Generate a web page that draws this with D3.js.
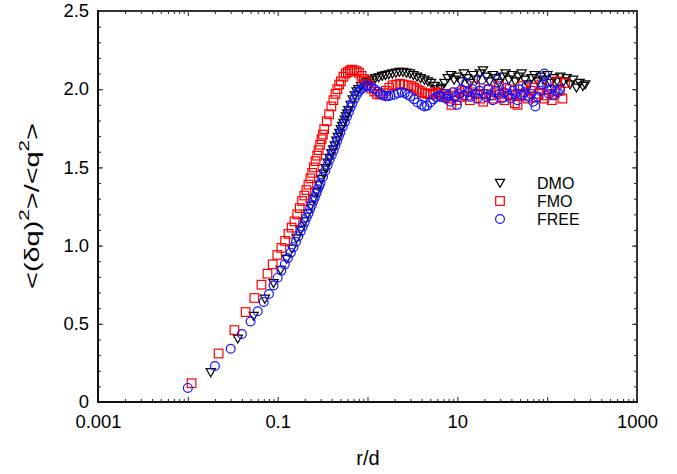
<!DOCTYPE html>
<html><head><meta charset="utf-8">
<script src="https://cdn.jsdelivr.net/npm/d3@7"></script>
<style>body{margin:0;background:#fff}svg{display:block}</style>
</head><body>
<svg id="c" width="677" height="474"></svg>
<script>
// ---- data ----
const seriesNames = ["DMO", "FMO", "FREE"];

const rDMO = [0.018,0.036,0.054,0.072,0.090,0.108,0.126,0.144,0.162,0.180,0.198,0.216,0.234,0.252,0.270,0.288,0.306,0.324,0.342,0.360,0.378,0.396,0.414,0.432,0.450,0.468,0.486,0.504,0.522,0.540,0.558,0.576,0.594,0.612,0.648,0.684,0.720,0.756,0.792,0.846,0.900,0.972,1.044,1.134,1.224,1.332,1.458,1.584,1.728,1.890,2.070,2.268,2.484,2.718,2.970,3.24,3.56,3.90,
  4.3,4.7,5.1,5.6,6.1,6.6,7.2,7.8,8.5,9.2,10.0,10.9,11.8,12.8,13.9,15.1,16.4,17.8,19.3,21.0,22.8,24.8,26.9,29.2,31.7,34.4,37.4,40.6,44.1,47.9,52.0,56.5,61.4,66.7,72.4,78.6,85.4,92.7,100.7,109.4,118.8,129.0,140.1,152.2,165.3,179.5,195.0,211.8,230.0,249.8,265.0];
const vDMO = [0.19,0.405,0.55,0.66,0.76,0.845,0.915,0.98,1.045,1.10,1.155,1.205,1.255,1.30,1.345,1.39,1.425,1.46,1.495,1.53,1.56,1.59,1.615,1.64,1.67,1.695,1.72,1.745,1.765,1.785,1.805,1.825,1.845,1.865,1.90,1.935,1.96,1.985,2.0,2.02,2.035,2.045,2.055,2.06,2.07,2.075,2.085,2.09,2.095,2.10,2.105,2.11,2.11,2.105,2.10,2.09,2.08,2.07,
  2.06,2.05,2.04,2.02,2.0,2.01,2.04,2.07,2.09,2.06,2.08,2.05,2.10,2.07,2.04,2.09,2.06,2.10,2.12,2.08,2.05,2.09,2.07,2.04,2.08,2.10,2.06,2.09,2.05,2.08,2.10,2.06,2.03,2.07,2.09,2.05,2.08,2.06,2.09,2.04,2.07,2.05,2.08,2.05,2.07,2.03,2.06,2.01,2.04,2.02,2.03];

const rFMO = [0.011,0.022,0.033,0.044,0.055,0.066,0.077,0.088,0.099,0.110,0.121,0.132,0.143,0.154,0.165,0.176,0.187,0.198,0.209,0.220,0.231,0.242,0.253,0.264,0.275,0.286,0.297,0.308,0.319,0.330,0.352,0.374,0.396,0.418,0.440,0.462,0.484,0.506,0.539,0.572,0.605,0.638,0.671,0.715,0.759,0.803,0.858,0.913,0.968,1.034,1.100,1.188,1.276,1.386,1.496,1.606,1.749,1.903,2.090,2.310,2.530,2.805,3.080,
  3.3,3.55,3.8,4.05,4.35,4.65,5.0,5.35,5.7,6.1,6.55,7.0,7.5,8.0,8.6,9.2,9.8,10.5,11.3,12.1,12.9,13.8,14.8,15.8,16.9,18.1,19.4,20.8,22.2,23.8,25.4,27.2,29.1,31.2,33.4,35.7,38.2,40.9,43.7,46.8,50.1,53.6,57.3,61.3,65.6,70.2,75.1,80.4,86.0,92.0,98.5,105.4,112.8,120.7,129.1,138.1,147.8,158.2];
const vFMO = [0.12,0.31,0.46,0.575,0.665,0.75,0.82,0.88,0.94,0.985,1.03,1.075,1.115,1.155,1.20,1.24,1.285,1.32,1.355,1.39,1.43,1.465,1.50,1.54,1.575,1.61,1.645,1.68,1.71,1.745,1.795,1.84,1.89,1.93,1.97,2.0,2.03,2.05,2.08,2.10,2.11,2.12,2.125,2.12,2.115,2.105,2.085,2.065,2.05,2.025,2.005,1.985,1.97,1.965,1.975,1.99,2.01,2.025,2.03,2.035,2.03,2.025,2.02,
  2.01,2.0,1.99,1.98,1.975,1.97,1.965,1.97,1.98,1.975,1.96,1.95,1.97,1.94,1.90,1.96,1.93,1.98,1.95,1.99,1.96,1.93,1.98,2.02,1.97,1.94,1.92,1.97,2.0,1.96,1.94,1.98,2.02,1.95,1.93,1.97,2.0,1.96,1.91,1.90,1.97,2.02,1.96,1.94,1.99,2.01,1.95,1.97,2.03,1.94,1.96,2.0,1.93,1.97,2.05,1.99,1.94,2.04];

const rFREE = [0.01,0.02,0.03,0.04,0.05,0.06,0.07,0.08,0.09,0.10,0.11,0.12,0.13,0.14,0.15,0.16,0.17,0.18,0.19,0.20,0.21,0.22,0.23,0.24,0.25,0.26,0.27,0.28,0.29,0.30,0.32,0.34,0.36,0.38,0.40,0.42,0.44,0.46,0.48,0.50,0.53,0.56,0.59,0.62,0.65,0.68,0.72,0.76,0.80,0.85,0.90,0.95,1.0,1.1,1.2,1.3,1.4,1.5,1.6,1.7,1.8,2.0,2.2,2.4,2.6,2.8,3.0,3.3,3.6,4.0,4.3,4.6,5.0,5.4,5.8,6.3,
  6.7,7.1,7.5,7.9,8.4,8.9,9.4,9.9,10.5,11.1,11.8,12.5,13.2,14.0,14.8,15.7,16.6,17.6,18.6,19.7,20.9,22.1,23.4,24.8,26.3,27.8,29.5,31.2,33.1,35.0,37.1,39.3,41.6,44.1,46.7,49.5,52.4,55.5,58.8,62.3,66.0,69.9,74.0,78.4,83.1,88.0,93.2,98.7,104.6,110.8,117.4,124.3,131.7,139.5];
const vFREE = [0.09,0.23,0.34,0.435,0.515,0.58,0.64,0.69,0.745,0.795,0.84,0.88,0.92,0.955,0.99,1.025,1.06,1.09,1.12,1.15,1.18,1.205,1.235,1.26,1.285,1.31,1.335,1.36,1.38,1.40,1.44,1.48,1.515,1.55,1.58,1.61,1.64,1.67,1.70,1.725,1.76,1.79,1.825,1.855,1.885,1.91,1.94,1.965,1.985,2.0,2.01,2.02,2.02,2.015,2.0,1.985,1.97,1.96,1.955,1.955,1.96,1.965,1.975,1.98,1.975,1.965,1.955,1.935,1.915,1.90,1.89,1.895,1.915,1.935,1.95,1.96,
  1.95,1.97,1.94,1.96,1.92,1.98,1.95,1.90,1.97,2.0,1.96,2.04,1.98,1.95,2.0,1.97,1.94,1.99,2.06,1.97,1.95,2.0,1.96,1.93,1.99,2.06,1.97,1.94,1.98,2.01,1.96,1.94,1.99,1.97,1.93,2.0,1.96,1.98,2.02,1.95,1.97,1.92,1.89,1.95,1.99,2.03,2.10,2.04,1.97,2.0,1.96,1.99,1.98,2.0];

const xTickLabels = [0.001, 0.1, 10, 1000];
const yTickLabels = [0, 0.5, 1.0, 1.5, 2.0, 2.5];

// ---- layout ----
const L = 98, R = 637, T = 11, B = 402;
const svg = d3.select("#c");
const x = d3.scaleLog().domain([0.001, 1000]).range([L, R]);
const y = d3.scaleLinear().domain([0, 2.5]).range([B, T]);

const font = "'Liberation Sans', Arial, sans-serif";

// minor ticks
const xMinor = [];
for (let e = -3; e < 3; e++) for (let k = 2; k <= 9; k++) xMinor.push(k * Math.pow(10, e));
const xMajor = [0.001,0.01,0.1,1,10,100,1000];
const yMinor = d3.range(0, 2.51, 0.1);

function tickAxis(axisFn, scale, vals, size, tr) {
  const g = svg.append("g").attr("transform", tr)
    .call(axisFn(scale).tickValues(vals).tickSize(-size).tickFormat(""));
  g.select(".domain").remove();
  g.selectAll("line").attr("stroke", "#222").attr("stroke-width", 1);
  return g;
}
tickAxis(d3.axisBottom, x, xMinor, 3, `translate(0,${B})`);
tickAxis(d3.axisBottom, x, xMajor, 5, `translate(0,${B})`);
tickAxis(d3.axisTop, x, xMinor, 3, `translate(0,${T})`);
tickAxis(d3.axisTop, x, xMajor, 5, `translate(0,${T})`);
tickAxis(d3.axisLeft, y, yMinor, 3, `translate(${L},0)`);
tickAxis(d3.axisLeft, y, yTickLabels, 5, `translate(${L},0)`);
tickAxis(d3.axisRight, y, yMinor, 3, `translate(${R},0)`);
tickAxis(d3.axisRight, y, yTickLabels, 5, `translate(${R},0)`);

// tick labels
const gx = svg.append("g").attr("transform", `translate(0,${B})`)
  .call(d3.axisBottom(x).tickValues(xTickLabels).tickSize(0).tickPadding(14)
    .tickFormat(d => String(d)));
gx.select(".domain").remove();
gx.selectAll("text").attr("font-family", font).attr("font-size", 17.5).attr("fill", "#000")
  .attr("transform", "scale(1.05,1)");

const gy = svg.append("g").attr("transform", `translate(${L},0)`)
  .call(d3.axisLeft(y).tickValues(yTickLabels).tickSize(0).tickPadding(9)
    .tickFormat(d => d === 0 ? "0" : d3.format(".1f")(d)));
gy.select(".domain").remove();
gy.selectAll("text").attr("font-family", font).attr("font-size", 17.5).attr("fill", "#000")
  .attr("x", -9 / 1.05).attr("transform", "scale(1.05,1)");

// frame
svg.append("line").attr("x1", L).attr("x2", R).attr("y1", T).attr("y2", T).attr("stroke", "#333").attr("stroke-width", 2);
svg.append("line").attr("x1", R).attr("x2", R).attr("y1", T - 1).attr("y2", B + 1).attr("stroke", "#333").attr("stroke-width", 2);
svg.append("line").attr("x1", L).attr("x2", L).attr("y1", T - 1).attr("y2", B + 1).attr("stroke", "#111").attr("stroke-width", 2);
svg.append("line").attr("x1", L - 1).attr("x2", R + 1).attr("y1", B).attr("y2", B).attr("stroke", "#111").attr("stroke-width", 2);

// axis titles
svg.append("text").attr("x", 368).attr("y", 465).attr("text-anchor", "middle")
  .attr("font-family", font).attr("font-size", 20).text("r/d");

const yl = svg.append("text").attr("transform", "translate(39,206) rotate(-90)")
  .attr("text-anchor", "middle").attr("font-family", font).attr("font-size", 21)
  .attr("textLength", 166).attr("lengthAdjust", "spacingAndGlyphs");
yl.append("tspan").text("<(δq)");
yl.append("tspan").attr("font-size", 15).attr("dy", -10).text("2");
yl.append("tspan").attr("dy", 10).text(">/<q");
yl.append("tspan").attr("font-size", 15).attr("dy", -10).text("2");
yl.append("tspan").attr("dy", 10).text(">");

// markers
const colors = { DMO: "#000", FMO: "#ff0000", FREE: "#1414ff" };
const tri = "M-4.6,-3.6L4.6,-3.6L0,4.4Z";
function marker(sel, name) {
  if (name === "DMO") sel.append("path").attr("d", tri);
  else if (name === "FMO") sel.append("rect").attr("x", -4.3).attr("y", -4.3).attr("width", 8.6).attr("height", 8.6);
  else sel.append("circle").attr("r", 4.4);
  sel.selectAll("path,rect,circle").attr("fill", "none").attr("stroke", colors[name]).attr("stroke-width", 1.2);
}
const data = {
  DMO: rDMO.map((r, i) => [r, vDMO[i]]),
  FMO: rFMO.map((r, i) => [r, vFMO[i]]),
  FREE: rFREE.map((r, i) => [r, vFREE[i]])
};
seriesNames.forEach(name => {
  const g = svg.append("g");
  g.selectAll("g").data(data[name]).join("g")
    .attr("transform", d => `translate(${x(d[0])},${y(d[1])})`)
    .each(function () { marker(d3.select(this), name); });
});

// legend
const legY = [183, 201, 219];
seriesNames.forEach((name, i) => {
  const g = svg.append("g").attr("transform", `translate(500,${legY[i]})`);
  marker(g, name);
  svg.append("text").attr("x", 537).attr("y", legY[i] + 5.8)
    .attr("font-family", font).attr("font-size", 16).text(name);
});
</script>
</body></html>
